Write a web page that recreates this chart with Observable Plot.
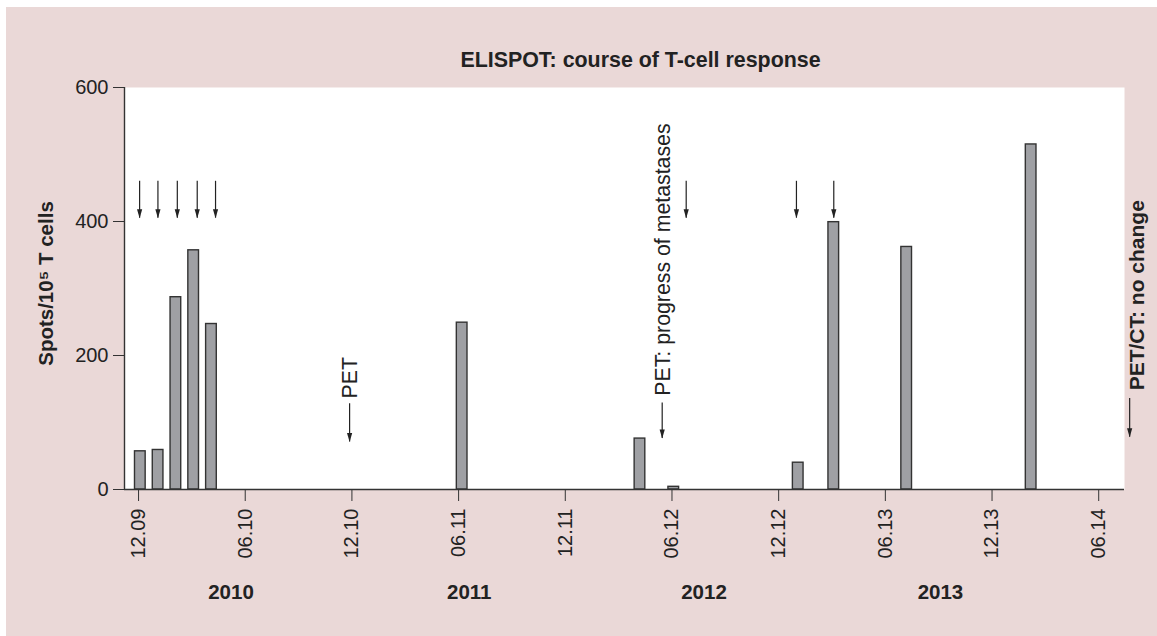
<!DOCTYPE html>
<html>
<head>
<meta charset="utf-8">
<script src="https://cdn.jsdelivr.net/npm/d3@7"></script>
<script src="https://cdn.jsdelivr.net/npm/@observablehq/plot@0.6"></script>
<style>
  html, body { margin: 0; padding: 0; background: #ffffff; }
  #bg { position: absolute; left: 6px; top: 7px; width: 1151px; height: 629px; background: #ead8d7; }
  #chart { position: absolute; left: 0; top: 0; }
</style>
</head>
<body>
<div id="bg"></div>
<div id="chart"></div>
<script>
// ---- data (x in months since 12.09) ----
const tickMonths = [0, 6, 12, 18, 24, 30, 36, 42, 48, 54];
const tickLabels = ["12.09", "06.10", "12.10", "06.11", "12.11", "06.12", "12.12", "06.13", "12.13", "06.14"];
const yTicks = [0, 200, 400, 600];

const barMonths = [0.1, 1.1, 2.1, 3.1, 4.1, 18.2, 28.2, 30.1, 37.1, 39.1, 43.2, 50.2];
const barValues = [57, 59, 287, 357, 247, 249, 76, 4, 40, 399, 362, 515];

// vaccination arrows
const arrowMonths = [0.06, 1.09, 2.18, 3.3, 4.33, 30.8, 37.0, 39.1];
const arrowTop = 460;
const arrowTip = 405;

// annotation arrows & labels
const annotArrowMonths = [11.87, 29.45, 55.74];
const annotArrowTop = [128, 129, 136];
const annotArrowTip = [71, 76, 78];
const annotLabels = ["PET", "PET: progress of metastases", "PET/CT: no change"];
const annotMonths = [11.92, 29.53, 56.19];
const annotBottoms = [136, 140, 148];
const annotBold = [false, false, true];

const years = ["2010", "2011", "2012", "2013"];
const yearMonths = [5.2, 18.6, 31.8, 45.1];

const titleText = "ELISPOT: course of T-cell response";
const yLabelText = "Spots/10\u2075 T cells";

const xDomain = [-0.79, 55.45];

// ---- build tables ----
const bars = barMonths.map((m, i) => ({m, v: barValues[i]}));
const annots = annotLabels.map((t, i) => ({t, m: annotMonths[i], y: annotBottoms[i], bold: annotBold[i]}));
const annotArrows = annotArrowMonths.map((m, i) => ({m, top: annotArrowTop[i], tip: annotArrowTip[i]}));
const vacc = arrowMonths.map(m => ({m, top: arrowTop, tip: arrowTip}));
const allArrows = vacc.concat(annotArrows);

const downTri = {
  draw(ctx) {
    ctx.moveTo(-2.6, -9);
    ctx.lineTo(2.6, -9);
    ctx.lineTo(0, 0);
    ctx.closePath();
  }
};

const ink = "#222";

const chart = Plot.plot({
  width: 1157,
  height: 636,
  marginLeft: 124,
  marginRight: 33,
  marginTop: 87,
  marginBottom: 147,
  style: {background: "transparent", fontFamily: "'Liberation Sans', Arial, Helvetica, sans-serif", fontSize: "20px", color: "#333"},
  x: {type: "linear", domain: xDomain, ticks: tickMonths, tickFormat: d => tickLabels[tickMonths.indexOf(d)], tickRotate: -90, tickSize: 12, tickPadding: 7, label: null},
  y: {domain: [0, 600], ticks: yTicks, tickSize: 11, tickPadding: 5, label: null},
  marks: [
    Plot.frame({fill: "white", stroke: null}),
    Plot.rectY(bars, {x1: d => d.m - 0.3, x2: d => d.m + 0.3, y: "v", fill: "#9fa0a4", stroke: "#333", strokeWidth: 1.4}),
    Plot.ruleY([0], {stroke: "#333", strokeWidth: 1.4}),
    Plot.ruleX([xDomain[0]], {stroke: "#333", strokeWidth: 1.4}),
    Plot.ruleX(allArrows, {x: "m", y1: "top", y2: "tip", stroke: ink, strokeWidth: 1.2}),
    Plot.dot(allArrows, {x: "m", y: "tip", symbol: downTri, fill: ink, stroke: null}),
    Plot.text(annots.filter(d => !d.bold), {x: "m", y: "y", text: "t", rotate: -90, textAnchor: "start", lineAnchor: "middle", fontSize: 21.3, fill: ink}),
    Plot.text(annots.filter(d => d.bold), {x: "m", y: "y", text: "t", rotate: -90, textAnchor: "start", lineAnchor: "middle", fontSize: 21, fontWeight: "bold", fill: ink}),
    Plot.text(yearMonths, {x: d => d, text: (d, i) => years[i], frameAnchor: "bottom", dy: 109, fontSize: 20.5, fontWeight: "bold", fill: ink}),
    Plot.text([titleText], {text: d => d, frameAnchor: "top", dx: 16, dy: -36, fontSize: 21.4, fontWeight: "bold", fill: ink}),
    Plot.text([yLabelText], {text: d => d, frameAnchor: "left", rotate: -90, textAnchor: "middle", dx: -78, dy: -5, fontSize: 20.5, fontWeight: "bold", fill: ink})
  ]
});
d3.select(chart).selectAll("g").each(function () {
  const label = this.getAttribute("aria-label") || "";
  if (label.includes("tick label")) d3.select(this).selectAll("text").attr("fill", "#222");
});
document.getElementById("chart").appendChild(chart);
</script>
</body>
</html>
